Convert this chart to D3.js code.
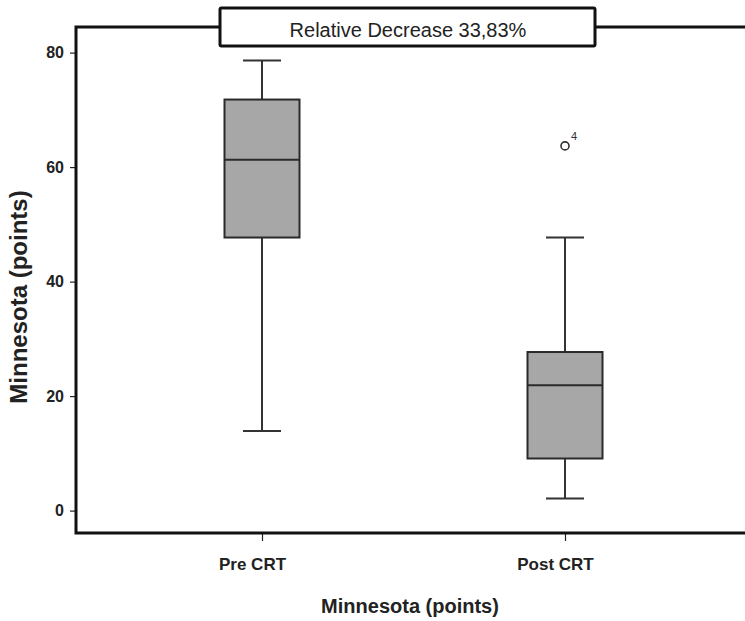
<!DOCTYPE html>
<html>
<head>
<meta charset="utf-8">
<script src="https://cdn.jsdelivr.net/npm/d3@7"></script>
<style>
  body { margin: 0; background: #fff; }
  text { font-family: "Liberation Sans", Arial, sans-serif; }
</style>
</head>
<body>
<div id="chart-area"></div>
<script>
const groups = ["Pre CRT", "Post CRT"];
const whiskerLow = [13.9, 2.1];
const q1 = [47.7, 9.1];
const median = [61.3, 21.9];
const q3 = [71.8, 27.7];
const whiskerHigh = [78.6, 47.7];
const outliers = [{ group: "Post CRT", value: 63.7, label: "4" }];
const yTicks = [0, 20, 40, 60, 80];
const titleText = "Relative Decrease 33,83%";

const W = 745, H = 621;
const frameLeft = 76, frameTop = 27, frameBottom = 533;

const svg = d3.select("#chart-area")
  .append("svg")
  .attr("width", W)
  .attr("height", H);

const x = d3.scalePoint()
  .domain(groups)
  .range([262, 565]);

const y = d3.scaleLinear()
  .domain([0, 80])
  .range([510.6, 52.6]);

const boxW = 75, capW = 38;

// y axis
const yAxis = svg.append("g")
  .attr("transform", `translate(${frameLeft},0)`)
  .call(d3.axisLeft(y).tickValues(yTicks).tickSize(6).tickPadding(6));
yAxis.select(".domain").remove();
yAxis.selectAll("line").attr("stroke", "#222").attr("stroke-width", 1.2);
yAxis.selectAll("text")
  .attr("font-size", 16).attr("font-weight", "bold").attr("fill", "#222")
  .attr("font-family", "Liberation Sans, Arial, sans-serif");

// x axis
const xAxis = svg.append("g")
  .attr("transform", `translate(0,${frameBottom})`)
  .call(d3.axisBottom(x).tickSize(8));
xAxis.select(".domain").remove();
xAxis.selectAll("line").attr("stroke", "#222").attr("stroke-width", 1.2);
xAxis.selectAll("text")
  .attr("y", 37).attr("dy", null).attr("dx", -10)
  .attr("font-size", 17).attr("font-weight", "bold").attr("fill", "#222")
  .attr("font-family", "Liberation Sans, Arial, sans-serif");

// frame
svg.append("path")
  .attr("d", `M${W},${frameTop}H${frameLeft}V${frameBottom}H${W}`)
  .attr("fill", "none")
  .attr("stroke", "#111")
  .attr("stroke-width", 3);

// boxes
const data = groups.map((g, i) => ({
  g, lo: whiskerLow[i], q1: q1[i], med: median[i], q3: q3[i], hi: whiskerHigh[i]
}));

const box = svg.selectAll(".box")
  .data(data)
  .enter().append("g")
  .attr("class", "box");

box.append("line")
  .attr("x1", d => x(d.g)).attr("x2", d => x(d.g))
  .attr("y1", d => y(d.hi)).attr("y2", d => y(d.lo))
  .attr("stroke", "#333").attr("stroke-width", 2);

box.selectAll(".cap")
  .data(d => [[d.g, d.lo], [d.g, d.hi]])
  .enter().append("line")
  .attr("x1", d => x(d[0]) - capW / 2).attr("x2", d => x(d[0]) + capW / 2)
  .attr("y1", d => y(d[1])).attr("y2", d => y(d[1]))
  .attr("stroke", "#333").attr("stroke-width", 2);

box.append("rect")
  .attr("x", d => x(d.g) - boxW / 2)
  .attr("y", d => y(d.q3))
  .attr("width", boxW)
  .attr("height", d => y(d.q1) - y(d.q3))
  .attr("fill", "#a7a7a7")
  .attr("stroke", "#2a2a2a")
  .attr("stroke-width", 2);

box.append("line")
  .attr("x1", d => x(d.g) - boxW / 2).attr("x2", d => x(d.g) + boxW / 2)
  .attr("y1", d => y(d.med)).attr("y2", d => y(d.med))
  .attr("stroke", "#2a2a2a").attr("stroke-width", 2);

// outliers
svg.selectAll(".outlier")
  .data(outliers)
  .enter().append("circle")
  .attr("cx", d => x(d.group))
  .attr("cy", d => y(d.value))
  .attr("r", 4)
  .attr("fill", "none")
  .attr("stroke", "#333")
  .attr("stroke-width", 1.6);

svg.selectAll(".outlier-label")
  .data(outliers)
  .enter().append("text")
  .attr("x", d => x(d.group) + 6)
  .attr("y", d => y(d.value) - 6)
  .attr("font-size", 11)
  .attr("fill", "#333")
  .text(d => d.label);

// title box
svg.append("rect")
  .attr("x", 220).attr("y", 8)
  .attr("width", 375).attr("height", 38)
  .attr("fill", "#fff")
  .attr("stroke", "#111")
  .attr("stroke-width", 3)
  .attr("rx", 1.5);

svg.append("text")
  .attr("x", 408).attr("y", 37)
  .attr("text-anchor", "middle")
  .attr("font-size", 20)
  .attr("fill", "#222")
  .text(titleText);

// axis titles
svg.append("text")
  .attr("x", 410).attr("y", 613)
  .attr("text-anchor", "middle")
  .attr("font-size", 20).attr("font-weight", "bold").attr("fill", "#222")
  .text("Minnesota (points)");

svg.append("text")
  .attr("transform", "translate(27,297) rotate(-90)")
  .attr("text-anchor", "middle")
  .attr("font-size", 24).attr("font-weight", "bold").attr("fill", "#222")
  .text("Minnesota (points)");
</script>
</body>
</html>
